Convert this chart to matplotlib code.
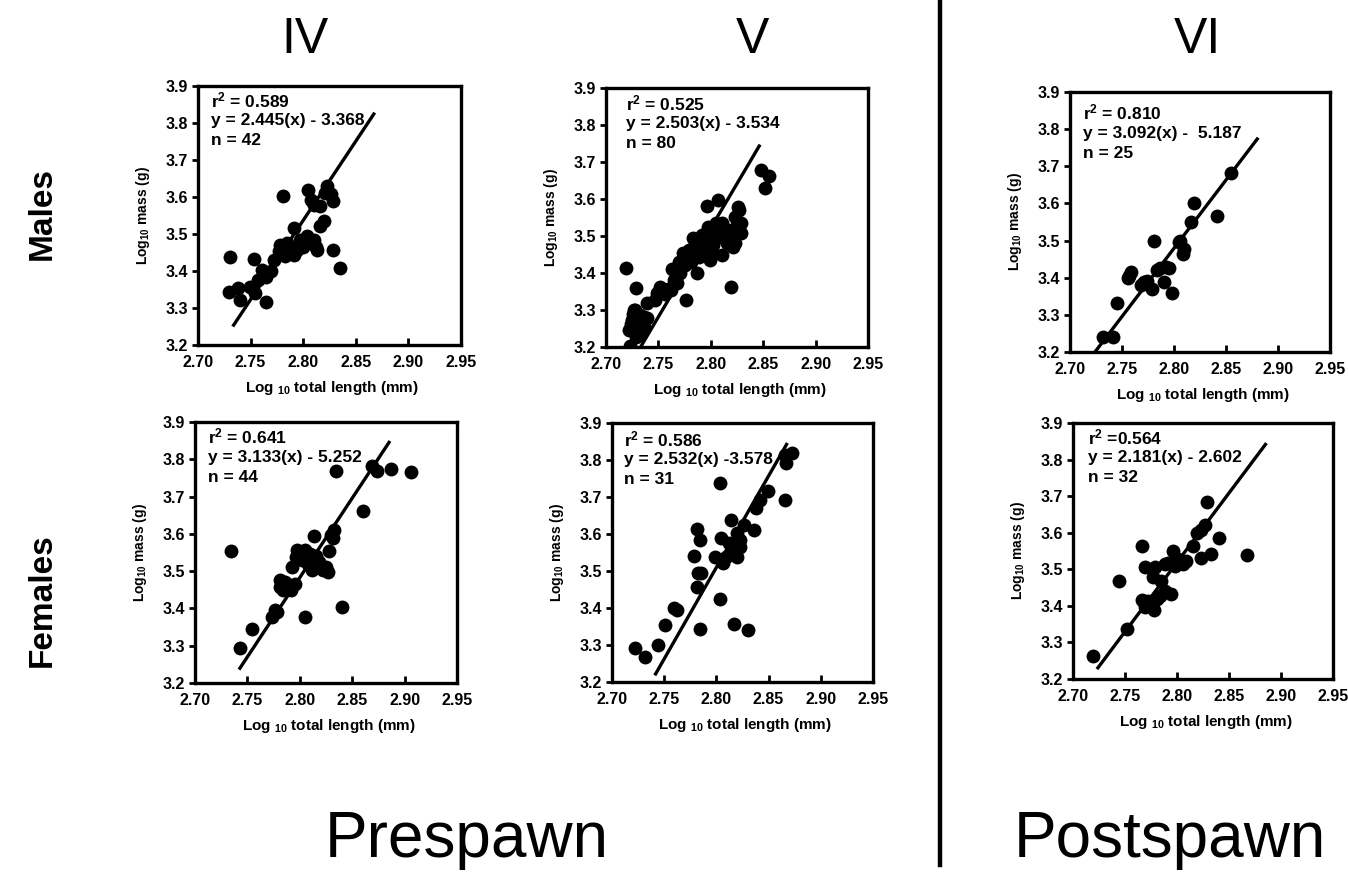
import matplotlib
matplotlib.use("Agg")
import matplotlib.pyplot as plt
from matplotlib.lines import Line2D

plt.rcParams['font.family'] = ['Liberation Sans', 'DejaVu Sans']
plt.rcParams['font.weight'] = 'bold'
plt.rcParams['mathtext.fontset'] = 'custom'
plt.rcParams['mathtext.rm'] = 'Liberation Sans:bold'
plt.rcParams['mathtext.bf'] = 'Liberation Sans:bold'
plt.rcParams['mathtext.it'] = 'Liberation Sans:bold'
plt.rcParams['mathtext.default'] = 'rm'

# ---------------- data ----------------
col_titles = ["IV", "V", "VI"]
row_titles = ["Males", "Females"]
period_titles = ["Prespawn", "Postspawn"]

x_ticks = [2.70, 2.75, 2.80, 2.85, 2.90, 2.95]
x_ticklabels = ["2.70", "2.75", "2.80", "2.85", "2.90", "2.95"]
y_ticks = [3.2, 3.3, 3.4, 3.5, 3.6, 3.7, 3.8, 3.9]
y_ticklabels = ["3.2", "3.3", "3.4", "3.5", "3.6", "3.7", "3.8", "3.9"]
x_label = r"Log $_{10}$ total length (mm)"
y_label = r"Log$_{10}$ mass (g)"

# Males, stage IV
m4_x = [2.730, 2.729, 2.738, 2.740, 2.753, 2.765, 2.749, 2.754, 2.757, 2.761,
        2.765, 2.769, 2.772, 2.777, 2.778, 2.781, 2.781, 2.785, 2.788, 2.791,
        2.794, 2.791, 2.797, 2.800, 2.804, 2.807, 2.810, 2.812, 2.813, 2.805,
        2.807, 2.810, 2.816, 2.816, 2.821, 2.823, 2.826, 2.828, 2.820, 2.828,
        2.835, 2.783]
m4_y = [3.439, 3.342, 3.354, 3.322, 3.433, 3.317, 3.358, 3.340, 3.376, 3.403,
        3.385, 3.399, 3.430, 3.453, 3.471, 3.448, 3.602, 3.476, 3.466, 3.444,
        3.457, 3.516, 3.484, 3.466, 3.494, 3.476, 3.484, 3.466, 3.457, 3.620,
        3.593, 3.579, 3.575, 3.521, 3.611, 3.629, 3.607, 3.588, 3.534, 3.457,
        3.408, 3.440]
m4_fit_x = [2.733, 2.868]
m4_fit_y = [3.250, 3.828]
m4_stats = [r"r$^2$ = 0.589", "y = 2.445(x) - 3.368", "n = 42"]

# Males, stage V
m5_x = [2.719, 2.723, 2.729, 2.727, 2.723, 2.725, 2.728, 2.730, 2.733, 2.736,
        2.731, 2.739, 2.747, 2.752, 2.756, 2.762, 2.763, 2.768, 2.771, 2.775,
        2.776, 2.778, 2.781, 2.784, 2.787, 2.789, 2.791, 2.794, 2.795, 2.796,
        2.799, 2.800, 2.803, 2.807, 2.808, 2.811, 2.811, 2.815, 2.816, 2.819,
        2.821, 2.823, 2.826, 2.824, 2.829, 2.829, 2.848, 2.852, 2.856,
        2.722, 2.724, 2.726, 2.728, 2.730, 2.732, 2.735, 2.736, 2.733, 2.729,
        2.731, 2.739, 2.749, 2.759, 2.765, 2.770, 2.773, 2.779, 2.783, 2.786,
        2.792, 2.797, 2.802, 2.805, 2.810, 2.818, 2.823, 2.827]
m5_y = [3.414, 3.202, 3.360, 3.299, 3.250, 3.272, 3.290, 3.254, 3.268, 3.281,
        3.236, 3.319, 3.326, 3.363, 3.344, 3.354, 3.412, 3.372, 3.399, 3.421,
        3.326, 3.453, 3.430, 3.471, 3.399, 3.444, 3.480, 3.462, 3.498, 3.581,
        3.435, 3.453, 3.516, 3.598, 3.498, 3.448, 3.534, 3.480, 3.516, 3.363,
        3.471, 3.552, 3.579, 3.525, 3.507, 3.534, 3.679, 3.629, 3.661,
        3.245, 3.263, 3.290, 3.299, 3.277, 3.286, 3.268, 3.254, 3.236, 3.227,
        3.250, 3.279, 3.345, 3.358, 3.381, 3.430, 3.453, 3.462, 3.494, 3.453,
        3.503, 3.525, 3.476, 3.534, 3.525, 3.498, 3.480, 3.570]
m5_fit_x = [2.733, 2.847]
m5_fit_y = [3.200, 3.747]
m5_stats = [r"r$^2$ = 0.525", "y = 2.503(x) - 3.534", "n = 80"]

# Males, stage VI
m6_x = [2.732, 2.741, 2.745, 2.756, 2.759, 2.757, 2.768, 2.774, 2.779, 2.781,
        2.787, 2.790, 2.795, 2.798, 2.805, 2.809, 2.810, 2.816, 2.819, 2.841,
        2.855, 2.771, 2.792, 2.806, 2.784]
m6_y = [3.241, 3.241, 3.331, 3.398, 3.416, 3.404, 3.381, 3.392, 3.370, 3.500,
        3.425, 3.388, 3.425, 3.359, 3.496, 3.464, 3.478, 3.550, 3.602, 3.566,
        3.682, 3.388, 3.430, 3.500, 3.420]
m6_fit_x = [2.724, 2.881]
m6_fit_y = [3.200, 3.777]
m6_stats = [r"r$^2$ = 0.810", "y = 3.092(x) -  5.187", "n = 25"]

# Females, stage IV
f4_x = [2.734, 2.743, 2.754, 2.776, 2.773, 2.781, 2.781, 2.784, 2.792, 2.793,
        2.796, 2.797, 2.802, 2.805, 2.809, 2.805, 2.812, 2.814, 2.817, 2.822,
        2.827, 2.828, 2.830, 2.833, 2.835, 2.840, 2.860, 2.869, 2.874, 2.887,
        2.906, 2.795, 2.800, 2.808, 2.818, 2.825, 2.790, 2.778, 2.815, 2.803,
        2.832, 2.786, 2.810, 2.820]
f4_y = [3.555, 3.295, 3.345, 3.397, 3.376, 3.476, 3.457, 3.450, 3.450, 3.512,
        3.539, 3.557, 3.530, 3.557, 3.535, 3.376, 3.503, 3.593, 3.517, 3.503,
        3.499, 3.553, 3.598, 3.611, 3.768, 3.405, 3.660, 3.783, 3.768, 3.775,
        3.766, 3.465, 3.545, 3.520, 3.525, 3.510, 3.460, 3.390, 3.540, 3.550,
        3.590, 3.470, 3.545, 3.510]
f4_fit_x = [2.742, 2.886]
f4_fit_y = [3.236, 3.849]
f4_stats = [r"r$^2$ = 0.641", "y = 3.133(x) - 5.252", "n = 44"]

# Females, stage V
f5_x = [2.722, 2.732, 2.744, 2.751, 2.759, 2.762, 2.779, 2.781, 2.784, 2.782,
        2.785, 2.781, 2.784, 2.803, 2.803, 2.799, 2.804, 2.806, 2.809, 2.812,
        2.814, 2.817, 2.817, 2.820, 2.823, 2.820, 2.823, 2.830, 2.836, 2.838,
        2.842, 2.849, 2.866, 2.867, 2.872, 2.866, 2.826]
f5_y = [3.292, 3.268, 3.301, 3.355, 3.399, 3.394, 3.541, 3.614, 3.584, 3.494,
        3.494, 3.457, 3.342, 3.423, 3.739, 3.539, 3.588, 3.521, 3.539, 3.575,
        3.638, 3.358, 3.557, 3.602, 3.584, 3.539, 3.566, 3.340, 3.611, 3.670,
        3.692, 3.715, 3.692, 3.793, 3.819, 3.814, 3.625]
f5_fit_x = [2.741, 2.868]
f5_fit_y = [3.218, 3.846]
f5_stats = [r"r$^2$ = 0.586", "y = 2.532(x) -3.578", "n = 31"]

# Females, stage VI
f6_x = [2.719, 2.744, 2.752, 2.766, 2.769, 2.766, 2.769, 2.772, 2.778, 2.777,
        2.779, 2.781, 2.784, 2.785, 2.788, 2.788, 2.791, 2.794, 2.796, 2.798,
        2.801, 2.806, 2.809, 2.815, 2.819, 2.823, 2.827, 2.829, 2.833, 2.840,
        2.867, 2.823]
f6_y = [3.263, 3.468, 3.338, 3.563, 3.506, 3.416, 3.396, 3.413, 3.389, 3.479,
        3.505, 3.419, 3.428, 3.468, 3.514, 3.441, 3.518, 3.432, 3.550, 3.509,
        3.527, 3.514, 3.523, 3.563, 3.599, 3.532, 3.622, 3.683, 3.541, 3.586,
        3.539, 3.608]
f6_fit_x = [2.723, 2.886]
f6_fit_y = [3.227, 3.845]
f6_stats = [r"r$^2$ =0.564", "y = 2.181(x) - 2.602", "n = 32"]

panels = [
    (m4_x, m4_y, m4_fit_x, m4_fit_y, m4_stats),
    (m5_x, m5_y, m5_fit_x, m5_fit_y, m5_stats),
    (m6_x, m6_y, m6_fit_x, m6_fit_y, m6_stats),
    (f4_x, f4_y, f4_fit_x, f4_fit_y, f4_stats),
    (f5_x, f5_y, f5_fit_x, f5_fit_y, f5_stats),
    (f6_x, f6_y, f6_fit_x, f6_fit_y, f6_stats),
]

# ---------------- layout ----------------
W, H = 1348, 875
fig = plt.figure(figsize=(W / 100, H / 100), dpi=100)
fig.patch.set_facecolor("white")

# axes boxes in pixels: left, top, right, bottom
boxes = [
    (198, 86, 461, 345),
    (606, 88, 868, 347),
    (1070, 92, 1330, 352),
    (195, 422, 457, 683),
    (612, 423, 873, 682),
    (1073, 423, 1333, 679),
]
text_x = [0.05, 0.075, 0.05, 0.05, 0.045, 0.058]
text_y0 = [0.945, 0.94, 0.92, 0.943, 0.937, 0.945]

for (px, py, fx, fy, stats), (l, t, r, b), tx, ty in zip(panels, boxes, text_x, text_y0):
    ax = fig.add_axes([l / W, 1 - b / H, (r - l) / W, (b - t) / H])
    ax.set_xlim(2.70, 2.95)
    ax.set_ylim(3.2, 3.9)
    ax.set_xticks(x_ticks)
    ax.set_xticklabels(x_ticklabels)
    ax.set_yticks(y_ticks)
    ax.set_yticklabels(y_ticklabels)
    ax.tick_params(axis='x', direction='in', length=5, width=2, pad=7,
                   labelsize=11.5, color='black')
    ax.tick_params(axis='y', direction='out', length=4, width=2, pad=3,
                   labelsize=11.5, color='black')
    for sp in ax.spines.values():
        sp.set_linewidth(2.4)
        sp.set_color('black')
    ax.plot(fx, fy, color='black', linewidth=2.4, zorder=3, solid_capstyle='butt')
    ax.plot(px, py, 'o', color='black', markersize=10, markeredgewidth=0, zorder=4)
    for i, s in enumerate(stats):
        ax.text(tx, ty - i * 0.078, s, transform=ax.transAxes, ha='left', va='center',
                fontsize=12.5, fontweight='bold', zorder=2)
    w_ax = r - l
    h_ax = b - t
    ax.text(-55 / w_ax, 0.5, y_label, transform=ax.transAxes, rotation=90,
            ha='center', va='center', fontsize=10, fontweight='bold')
    ax.text(0.51, -43 / h_ax, x_label, transform=ax.transAxes,
            ha='center', va='center', fontsize=11, fontweight='bold')

# column titles
col_x = [305, 752, 1197]
for s, x in zip(col_titles, col_x):
    fig.text(x / W, 1 - 40 / H, s, ha='center', va='center', fontsize=36,
             fontweight='normal')

# row titles
row_y = [214, 600]
for s, y in zip(row_titles, row_y):
    fig.text(42 / W, 1 - y / H, s, ha='center', va='center', rotation=90,
             fontsize=24, fontweight='bold')

# period titles
period_x = [467, 1170]
for s, x in zip(period_titles, period_x):
    fig.text(x / W, 1 - 840 / H, s, ha='center', va='center', fontsize=46,
             fontweight='normal')

# vertical divider
fig.add_artist(Line2D([940 / W, 940 / W], [1 - 0 / H, 1 - 865 / H],
                      transform=fig.transFigure, color='black', linewidth=3.2))

fig.savefig("out.png", dpi=100, facecolor='white')
